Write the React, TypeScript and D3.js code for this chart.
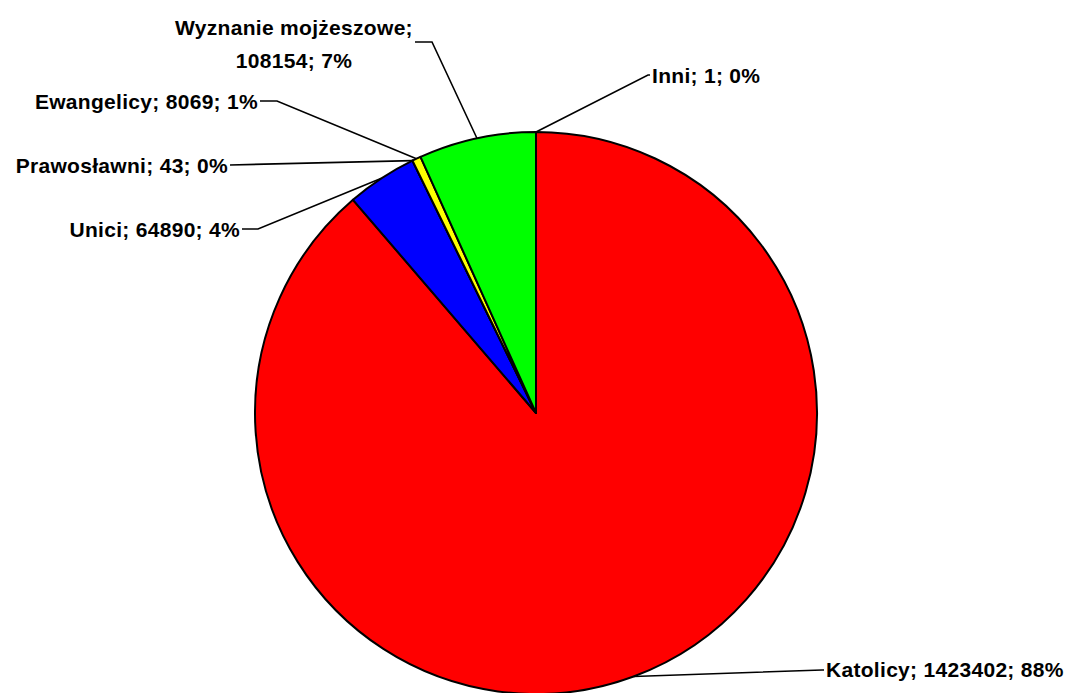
import * as d3 from "d3";

const names = ["Katolicy", "Unici", "Prawosławni", "Ewangelicy", "Wyznanie mojżeszowe", "Inni"];
const counts = [1423402, 64890, 43, 8069, 108154, 1];
const shownPct = [88, 4, 0, 1, 7, 0];
const colors = ["#ff0000", "#0000ff", "#9999ff", "#ffff00", "#00ff00", "#ffffff"];

// label anchor (text start / end), elbow, and text lines per slice
const labelLayout = [
  { x: 826, y: 669, anchor: "start", elbow: [822, 670], lines: null },
  { x: 240, y: 229, anchor: "end", elbow: [258, 229], lines: null },
  { x: 228, y: 165, anchor: "end", elbow: [230, 165], lines: null },
  { x: 258, y: 101, anchor: "end", elbow: [277, 101], lines: null },
  { x: 294, y: 27, anchor: "middle", elbow: [432, 42], lines: 2 },
  { x: 652, y: 75, anchor: "start", elbow: [648, 75], lines: null },
];

const W = 1072;
const H = 693;
const cx = 536;
const cy = 413;
const R = 281;

export default function App() {
  const pie = d3.pie<number>().value((d) => d).sort(null);
  const arcs = pie(counts);
  const arc = d3.arc<d3.PieArcDatum<number>>().innerRadius(0).outerRadius(R);
  const edge = d3.arc<d3.PieArcDatum<number>>().innerRadius(R).outerRadius(R);

  const font = { fontFamily: "'Liberation Sans', Arial, sans-serif", fontWeight: 700, fontSize: 21, letterSpacing: "0.3px" };

  return (
    <svg width={W} height={H} style={{ position: "absolute", left: 0, top: 0, background: "#fff" }}>
      <g transform={`translate(${cx},${cy})`}>
        {arcs.map((a, i) => (
          <path key={names[i]} d={arc(a) ?? ""} fill={colors[i]} stroke="#000" strokeWidth={2} strokeLinejoin="round" />
        ))}
      </g>
      {arcs.map((a, i) => {
        const [px, py] = edge.centroid(a);
        const L = labelLayout[i];
        const ex = L.elbow[0];
        const ey = L.elbow[1];
        let hx = L.anchor === "start" ? L.x - 2 : L.x + 2;
        if (L.lines === 2) hx = 415;
        const text = `${names[i]}; ${counts[i]}; ${shownPct[i]}%`;
        return (
          <g key={names[i]}>
            <polyline
              points={`${cx + px},${cy + py} ${ex},${ey} ${hx},${ey}`}
              fill="none"
              stroke="#000"
              strokeWidth={1.6}
            />
            {L.lines === 2 ? (
              <text x={L.x} y={L.y + 7.5} textAnchor="middle" style={font}>
                <tspan x={L.x}>{`${names[i]};`}</tspan>
                <tspan x={L.x} dy={33}>{`${counts[i]}; ${shownPct[i]}%`}</tspan>
              </text>
            ) : (
              <text x={L.x} y={L.y + 7.5} textAnchor={L.anchor} style={font}>
                {text}
              </text>
            )}
          </g>
        );
      })}
    </svg>
  );
}
